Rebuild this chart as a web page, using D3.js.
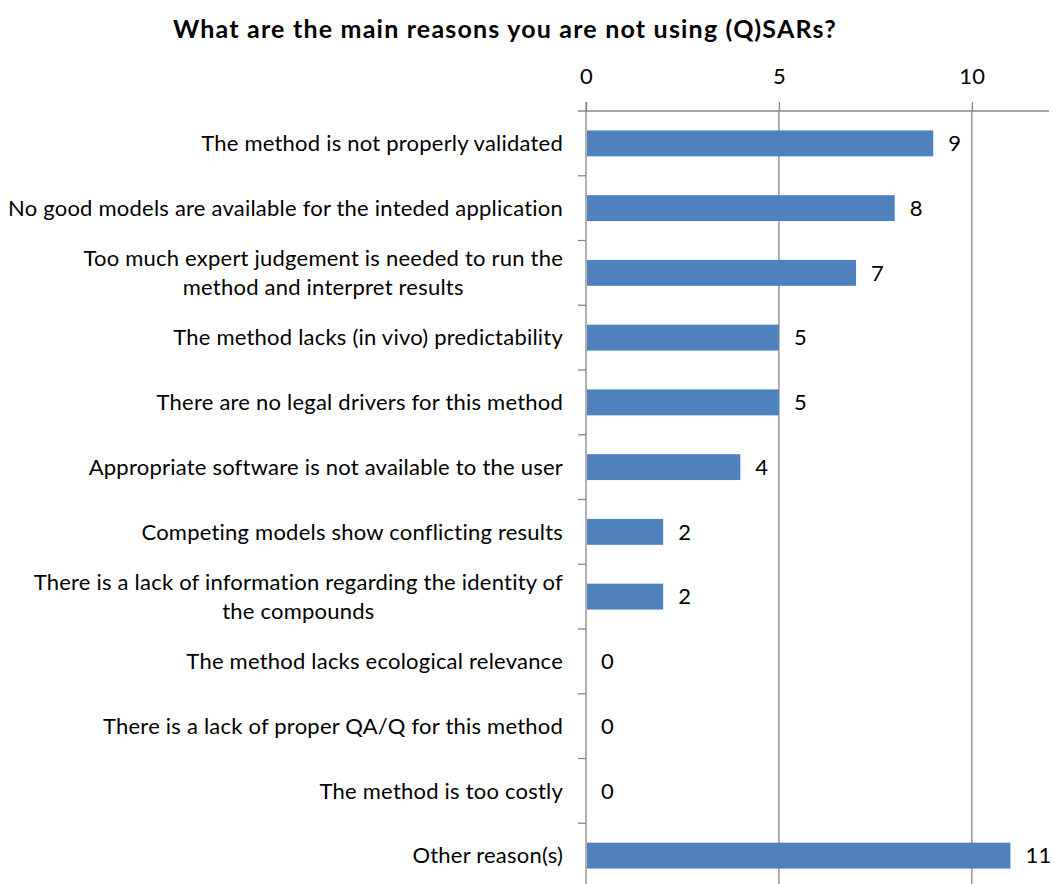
<!DOCTYPE html>
<html>
<head>
<meta charset="utf-8">
<script src="https://cdn.jsdelivr.net/npm/d3@7"></script>
<style>
  body { margin: 0; background: #fff; }
  svg { display: block; font-family: Lato, "Open Sans", "Liberation Sans", sans-serif; }
</style>
</head>
<body>
<svg id="chart" width="1055" height="884"></svg>
<script>
// Survey answers: reasons for not using (Q)SARs
const categories = [
  ["The method is not properly validated"],
  ["No good models are available for the inteded application"],
  ["Too much expert judgement is needed to run the", "method and interpret results"],
  ["The method lacks (in vivo) predictability"],
  ["There are no legal drivers for this method"],
  ["Appropriate software is not available to the user"],
  ["Competing models show conflicting results"],
  ["There is a lack of information regarding the identity of", "the compounds"],
  ["The method lacks ecological relevance"],
  ["There is a lack of proper QA/Q for this method"],
  ["The method is too costly"],
  ["Other reason(s)"]
];
const counts = [9, 8, 7, 5, 5, 4, 2, 2, 0, 0, 0, 11];
const tickValues = [0, 5, 10];
const titleText = "What are the main reasons you are not using (Q)SARs?";

const svg = d3.select("#chart");
const plotLeft = 586, plotRight = 1049, plotTop = 111, plotBottom = 888;
const gridColor = "#868686";
const textSize = 22;
const spacing = "0.22px";

const x = d3.scaleLinear().domain([0, 12]).range([plotLeft, plotRight]);
const y = d3.scaleBand().domain(d3.range(categories.length)).range([plotTop, plotBottom])
  .paddingInner(0.6).paddingOuter(0.3);

// Title
svg.append("text")
  .attr("x", 505).attr("y", 38)
  .attr("text-anchor", "middle")
  .attr("font-size", 25).attr("font-weight", "bold")
  .attr("letter-spacing", "1.2px")
  .attr("fill", "#000")
  .text(titleText);

// Vertical gridlines at major ticks
svg.append("g").selectAll("line")
  .data(tickValues.slice(1))
  .join("line")
  .attr("x1", d => x(d)).attr("x2", d => x(d))
  .attr("y1", plotTop).attr("y2", plotBottom)
  .attr("stroke", gridColor).attr("stroke-width", 1.3);

// Top value axis
const xAxis = svg.append("g")
  .attr("transform", `translate(0,${plotTop})`)
  .call(d3.axisTop(x).tickValues(tickValues).tickSize(9).tickPadding(18).tickSizeOuter(0));
xAxis.select(".domain").remove();
xAxis.append("line")
  .attr("x1", plotLeft - 8).attr("x2", plotRight)
  .attr("stroke", gridColor).attr("stroke-width", 1.3);
xAxis.selectAll(".tick line").attr("stroke", gridColor).attr("stroke-width", 1.3);
xAxis.selectAll(".tick text")
  .attr("font-size", textSize).attr("fill", "#000")
  .attr("letter-spacing", spacing)
  .attr("font-family", "Lato, sans-serif");

// Category axis line with tick marks between categories
const yAxisG = svg.append("g");
yAxisG.append("line")
  .attr("x1", plotLeft).attr("x2", plotLeft)
  .attr("y1", plotTop - 9).attr("y2", plotBottom)
  .attr("stroke", gridColor).attr("stroke-width", 1.3);
yAxisG.selectAll("line.sep")
  .data(d3.range(1, categories.length))
  .join("line")
  .attr("class", "sep")
  .attr("x1", plotLeft - 8).attr("x2", plotLeft)
  .attr("y1", i => plotTop + i * y.step()).attr("y2", i => plotTop + i * y.step())
  .attr("stroke", gridColor).attr("stroke-width", 1.3);

// Bars
svg.append("g").selectAll("rect")
  .data(counts)
  .join("rect")
  .attr("x", x(0) + 1)
  .attr("y", (d, i) => y(i))
  .attr("width", d => Math.max(0, x(d) - x(0) - 1))
  .attr("height", y.bandwidth())
  .attr("fill", "#4f81bd");

// Value labels
svg.append("g").selectAll("text")
  .data(counts)
  .join("text")
  .attr("x", d => x(d) + 15)
  .attr("y", (d, i) => y(i) + y.bandwidth() / 2)
  .attr("dy", "0.35em")
  .attr("font-size", textSize).attr("fill", "#000")
  .attr("letter-spacing", spacing)
  .text(d => d);

// Category labels (wrapped labels centred on their longest line, right-aligned block)
const labelRight = 563, lineH = 29;
const labelG = svg.append("g");
categories.forEach((lines, i) => {
  const cy = y(i) + y.bandwidth() / 2;
  const t = labelG.append("text")
    .attr("font-size", textSize).attr("fill", "#000")
    .attr("letter-spacing", spacing);
  const spans = lines.map((s, k) => t.append("tspan")
    .attr("y", cy + (k - (lines.length - 1) / 2) * lineH)
    .attr("dy", "0.35em")
    .text(s));
  const widths = spans.map(s => s.node().getComputedTextLength());
  const maxW = d3.max(widths);
  spans.forEach((s, k) => s.attr("x", labelRight - maxW / 2 - widths[k] / 2));
});
</script>
</body>
</html>
